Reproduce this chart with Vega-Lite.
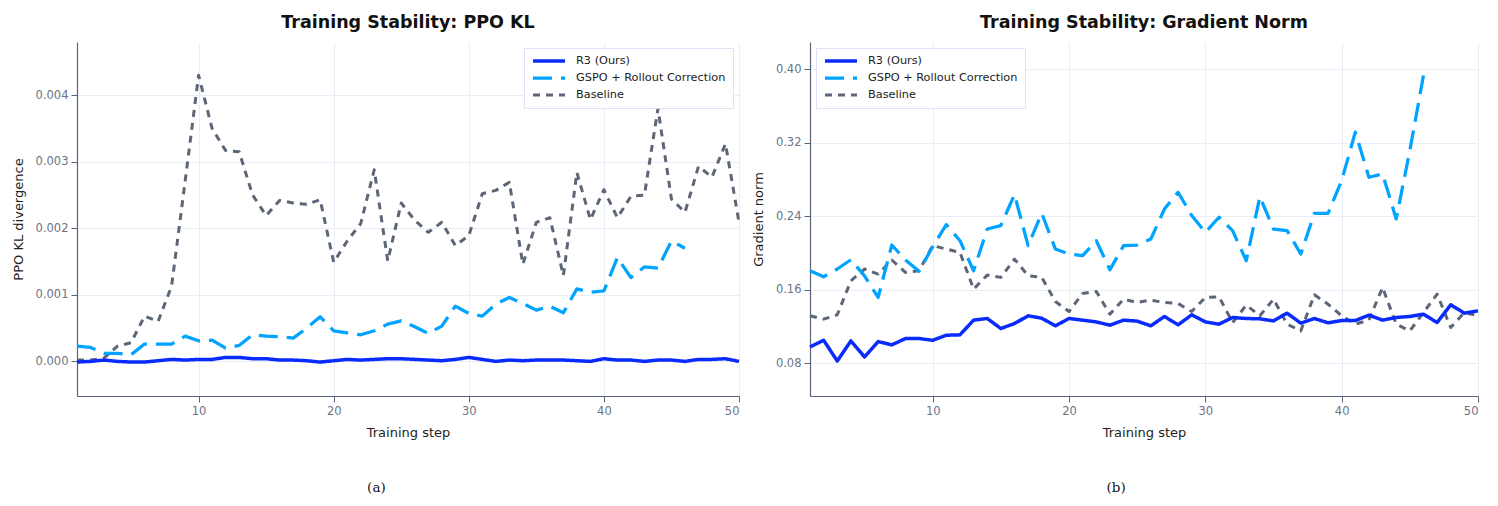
{
  "$schema": "https://vega.github.io/schema/vega-lite/v6.json",
  "background": "white",
  "padding": {"left": 12, "top": 13, "right": 10, "bottom": 5},
  "spacing": 11,
  "datasets": {
    "kl": [
      {"step":1,"base":0.00002,"gspo":0.00023,"r3":-0.00001},
      {"step":2,"base":0.00002,"gspo":0.00021,"r3":0.0},
      {"step":3,"base":0.00005,"gspo":0.00012,"r3":0.00002},
      {"step":4,"base":0.00023,"gspo":0.00012,"r3":0.0},
      {"step":5,"base":0.00028,"gspo":0.0001,"r3":-0.00001},
      {"step":6,"base":0.00068,"gspo":0.00026,"r3":-0.00001},
      {"step":7,"base":0.0006,"gspo":0.00026,"r3":0.00001},
      {"step":8,"base":0.00113,"gspo":0.00026,"r3":0.00003},
      {"step":9,"base":0.0027,"gspo":0.00038,"r3":0.00002},
      {"step":10,"base":0.0043,"gspo":0.00031,"r3":0.00003},
      {"step":11,"base":0.0035,"gspo":0.00032,"r3":0.00003},
      {"step":12,"base":0.00317,"gspo":0.0002,"r3":0.00006},
      {"step":13,"base":0.00315,"gspo":0.00024,"r3":0.00006},
      {"step":14,"base":0.0025,"gspo":0.0004,"r3":0.00004},
      {"step":15,"base":0.00219,"gspo":0.00038,"r3":0.00004},
      {"step":16,"base":0.00242,"gspo":0.00037,"r3":0.00002},
      {"step":17,"base":0.00238,"gspo":0.00035,"r3":0.00002},
      {"step":18,"base":0.00236,"gspo":0.0005,"r3":0.00001},
      {"step":19,"base":0.00243,"gspo":0.00067,"r3":-0.00001},
      {"step":20,"base":0.00149,"gspo":0.00046,"r3":0.00001},
      {"step":21,"base":0.00181,"gspo":0.00043,"r3":0.00003},
      {"step":22,"base":0.00207,"gspo":0.0004,"r3":0.00002},
      {"step":23,"base":0.00288,"gspo":0.00046,"r3":0.00003},
      {"step":24,"base":0.00151,"gspo":0.00056,"r3":0.00004},
      {"step":25,"base":0.00238,"gspo":0.00061,"r3":0.00004},
      {"step":26,"base":0.00212,"gspo":0.00052,"r3":0.00003},
      {"step":27,"base":0.00194,"gspo":0.00042,"r3":0.00002},
      {"step":28,"base":0.00209,"gspo":0.00053,"r3":0.00001},
      {"step":29,"base":0.00174,"gspo":0.00083,"r3":0.00003},
      {"step":30,"base":0.00189,"gspo":0.00072,"r3":0.00006},
      {"step":31,"base":0.00252,"gspo":0.00068,"r3":0.00003},
      {"step":32,"base":0.00257,"gspo":0.00086,"r3":0.0},
      {"step":33,"base":0.00269,"gspo":0.00096,"r3":0.00002},
      {"step":34,"base":0.00146,"gspo":0.00087,"r3":0.00001},
      {"step":35,"base":0.00209,"gspo":0.00077,"r3":0.00002},
      {"step":36,"base":0.00216,"gspo":0.00083,"r3":0.00002},
      {"step":37,"base":0.00129,"gspo":0.00073,"r3":0.00002},
      {"step":38,"base":0.00284,"gspo":0.00109,"r3":0.00001},
      {"step":39,"base":0.00213,"gspo":0.00104,"r3":0.0},
      {"step":40,"base":0.00258,"gspo":0.00106,"r3":0.00004},
      {"step":41,"base":0.00216,"gspo":0.00156,"r3":0.00002},
      {"step":42,"base":0.00248,"gspo":0.00126,"r3":0.00002},
      {"step":43,"base":0.0025,"gspo":0.00142,"r3":0.0},
      {"step":44,"base":0.0038,"gspo":0.0014,"r3":0.00002},
      {"step":45,"base":0.00244,"gspo":0.00181,"r3":0.00002},
      {"step":46,"base":0.00224,"gspo":0.0017,"r3":0.0},
      {"step":47,"base":0.00293,"gspo":null,"r3":0.00003},
      {"step":48,"base":0.00277,"gspo":null,"r3":0.00003},
      {"step":49,"base":0.00327,"gspo":null,"r3":0.00004},
      {"step":50,"base":0.00209,"gspo":null,"r3":0.0}
    ],
    "grad": [
      {"step":1,"base":0.1316,"gspo":0.1806,"r3":0.0978},
      {"step":2,"base":0.128,"gspo":0.1741,"r3":0.105},
      {"step":3,"base":0.1327,"gspo":0.1825,"r3":0.0825},
      {"step":4,"base":0.1697,"gspo":0.1926,"r3":0.1043},
      {"step":5,"base":0.1825,"gspo":0.175,"r3":0.0869},
      {"step":6,"base":0.177,"gspo":0.1516,"r3":0.1036},
      {"step":7,"base":0.1923,"gspo":0.2086,"r3":0.1},
      {"step":8,"base":0.1788,"gspo":0.1923,"r3":0.1069},
      {"step":9,"base":0.1806,"gspo":0.18,"r3":0.1069},
      {"step":10,"base":0.2079,"gspo":0.2068,"r3":0.105},
      {"step":11,"base":0.2042,"gspo":0.2308,"r3":0.1105},
      {"step":12,"base":0.2006,"gspo":0.2133,"r3":0.1109},
      {"step":13,"base":0.1606,"gspo":0.1806,"r3":0.1269},
      {"step":14,"base":0.1759,"gspo":0.226,"r3":0.1287},
      {"step":15,"base":0.1734,"gspo":0.2297,"r3":0.1178},
      {"step":16,"base":0.1933,"gspo":0.2635,"r3":0.1232},
      {"step":17,"base":0.1752,"gspo":0.2079,"r3":0.1316},
      {"step":18,"base":0.1734,"gspo":0.2431,"r3":0.129},
      {"step":19,"base":0.1472,"gspo":0.2042,"r3":0.1207},
      {"step":20,"base":0.1363,"gspo":0.1988,"r3":0.1287},
      {"step":21,"base":0.1559,"gspo":0.197,"r3":0.1269},
      {"step":22,"base":0.1581,"gspo":0.2133,"r3":0.125},
      {"step":23,"base":0.1334,"gspo":0.1817,"r3":0.1214},
      {"step":24,"base":0.1497,"gspo":0.2079,"r3":0.1269},
      {"step":25,"base":0.1461,"gspo":0.2086,"r3":0.1258},
      {"step":26,"base":0.1487,"gspo":0.2151,"r3":0.1207},
      {"step":27,"base":0.1461,"gspo":0.2478,"r3":0.1309},
      {"step":28,"base":0.145,"gspo":0.266,"r3":0.1218},
      {"step":29,"base":0.1363,"gspo":0.2406,"r3":0.1327},
      {"step":30,"base":0.1516,"gspo":0.2224,"r3":0.125},
      {"step":31,"base":0.1523,"gspo":0.2388,"r3":0.1225},
      {"step":32,"base":0.1243,"gspo":0.2242,"r3":0.1298},
      {"step":33,"base":0.1432,"gspo":0.1915,"r3":0.1287},
      {"step":34,"base":0.1316,"gspo":0.2613,"r3":0.1283},
      {"step":35,"base":0.1497,"gspo":0.226,"r3":0.1261},
      {"step":36,"base":0.1225,"gspo":0.2242,"r3":0.1345},
      {"step":37,"base":0.1152,"gspo":0.1988,"r3":0.1236},
      {"step":38,"base":0.1545,"gspo":0.2431,"r3":0.1287},
      {"step":39,"base":0.1443,"gspo":0.2431,"r3":0.124},
      {"step":40,"base":0.1316,"gspo":0.2787,"r3":0.1265},
      {"step":41,"base":0.1225,"gspo":0.3314,"r3":0.1265},
      {"step":42,"base":0.1269,"gspo":0.2823,"r3":0.1323},
      {"step":43,"base":0.1625,"gspo":0.286,"r3":0.1269},
      {"step":44,"base":0.1225,"gspo":0.237,"r3":0.1298},
      {"step":45,"base":0.1152,"gspo":0.3114,"r3":0.1309},
      {"step":46,"base":0.1352,"gspo":0.393,"r3":0.1334},
      {"step":47,"base":0.1552,"gspo":null,"r3":0.1243},
      {"step":48,"base":0.1189,"gspo":null,"r3":0.1436},
      {"step":49,"base":0.1352,"gspo":null,"r3":0.1345},
      {"step":50,"base":0.1316,"gspo":null,"r3":0.137}
    ]
  },
  "resolve": {"scale": {"y": "independent", "x": "independent", "color": "independent", "strokeDash": "independent", "strokeWidth": "independent"}, "legend": {"color": "independent", "strokeDash": "independent"}},
  "hconcat": [
    {
      "title": {"text": "(a)", "orient": "bottom", "anchor": "middle", "font": "DejaVu Serif", "fontSize": 13.5, "fontWeight": "normal", "color": "#111", "offset": 41},
      "resolve": {"scale": {"color": "independent", "strokeDash": "independent", "strokeWidth": "independent"}, "legend": {"color": "independent", "strokeDash": "independent"}},
      "vconcat": [
        {
          "width": 662,
          "height": 354,
          "title": {"text": "Training Stability: PPO KL", "anchor": "middle", "offset": 11},
          "data": {"name": "kl"},
          "transform": [{"fold": ["base", "gspo", "r3"], "as": ["series", "value"]}],
          "mark": {"type": "line", "strokeJoin": "round"},
          "encoding": {
            "x": {"field": "step", "type": "quantitative", "scale": {"domain": [1, 50], "nice": false, "zero": false}, "axis": {"values": [10, 20, 30, 40, 50], "title": "Training step"}},
            "y": {"field": "value", "type": "quantitative", "scale": {"domain": [-0.00052, 0.0048], "nice": false, "zero": false}, "axis": {"values": [0, 0.001, 0.002, 0.003, 0.004], "format": ".3f", "title": "PPO KL divergence"}},
            "color": {"field": "series", "type": "nominal", "scale": {"domain": ["r3", "gspo", "base"], "range": ["#0a2bff", "#00a3ff", "#5d6677"]},
              "legend": {"title": null, "orient": "top-right", "offset": 6, "labelExpr": "datum.label == 'r3' ? 'R3 (Ours)' : datum.label == 'gspo' ? 'GSPO + Rollout Correction' : 'Baseline'"}},
            "strokeDash": {"field": "series", "type": "nominal", "scale": {"domain": ["r3", "gspo", "base"], "range": [[1, 0], [19, 9], [7, 6]]},
              "legend": {"title": null, "orient": "top-right", "offset": 6, "labelExpr": "datum.label == 'r3' ? 'R3 (Ours)' : datum.label == 'gspo' ? 'GSPO + Rollout Correction' : 'Baseline'"}},
            "strokeWidth": {"field": "series", "type": "nominal", "scale": {"domain": ["r3", "gspo", "base"], "range": [3.5, 3, 3]}, "legend": null}
          }
        }
      ]
    },
    {
      "title": {"text": "(b)", "orient": "bottom", "anchor": "middle", "font": "DejaVu Serif", "fontSize": 13.5, "fontWeight": "normal", "color": "#111", "offset": 41},
      "resolve": {"scale": {"color": "independent", "strokeDash": "independent", "strokeWidth": "independent"}, "legend": {"color": "independent", "strokeDash": "independent"}},
      "vconcat": [
        {
          "width": 668,
          "height": 354,
          "title": {"text": "Training Stability: Gradient Norm", "anchor": "middle", "offset": 11},
          "data": {"name": "grad"},
          "transform": [{"fold": ["base", "gspo", "r3"], "as": ["series", "value"]}],
          "mark": {"type": "line", "strokeJoin": "round"},
          "encoding": {
            "x": {"field": "step", "type": "quantitative", "scale": {"domain": [1, 50], "nice": false, "zero": false}, "axis": {"values": [10, 20, 30, 40, 50], "title": "Training step"}},
            "y": {"field": "value", "type": "quantitative", "scale": {"domain": [0.0444, 0.4294], "nice": false, "zero": false}, "axis": {"values": [0.08, 0.16, 0.24, 0.32, 0.40], "format": ".2f", "title": "Gradient norm"}},
            "color": {"field": "series", "type": "nominal", "scale": {"domain": ["r3", "gspo", "base"], "range": ["#0a2bff", "#00a3ff", "#5d6677"]},
              "legend": {"title": null, "orient": "top-left", "offset": 6, "labelExpr": "datum.label == 'r3' ? 'R3 (Ours)' : datum.label == 'gspo' ? 'GSPO + Rollout Correction' : 'Baseline'"}},
            "strokeDash": {"field": "series", "type": "nominal", "scale": {"domain": ["r3", "gspo", "base"], "range": [[1, 0], [19, 9], [7, 6]]},
              "legend": {"title": null, "orient": "top-left", "offset": 6, "labelExpr": "datum.label == 'r3' ? 'R3 (Ours)' : datum.label == 'gspo' ? 'GSPO + Rollout Correction' : 'Baseline'"}},
            "strokeWidth": {"field": "series", "type": "nominal", "scale": {"domain": ["r3", "gspo", "base"], "range": [3.5, 3, 3]}, "legend": null}
          }
        }
      ]
    }
  ],
  "config": {
    "font": "DejaVu Sans",
    "view": {"stroke": null},
    "axis": {"domainColor": "#5a6378", "tickColor": "#5a6378", "gridColor": "#e9edf8", "labelColor": "#6b7385", "titleColor": "#222222", "labelFontSize": 11.5, "titleFontSize": 13, "titleFontWeight": "normal", "tickSize": 6, "labelPadding": 3, "domainWidth": 1.2, "titlePadding": 10},
    "title": {"fontSize": 17.5, "fontWeight": "bold", "color": "#111111"},
    "legend": {"symbolType": "stroke", "symbolSize": 1024, "symbolStrokeWidth": 3, "clipHeight": 12, "rowPadding": 5, "padding": 7, "labelFontSize": 11.3, "labelColor": "#222222", "fillColor": "white", "strokeColor": "#dde3f5", "labelOffset": 9}
  }
}
